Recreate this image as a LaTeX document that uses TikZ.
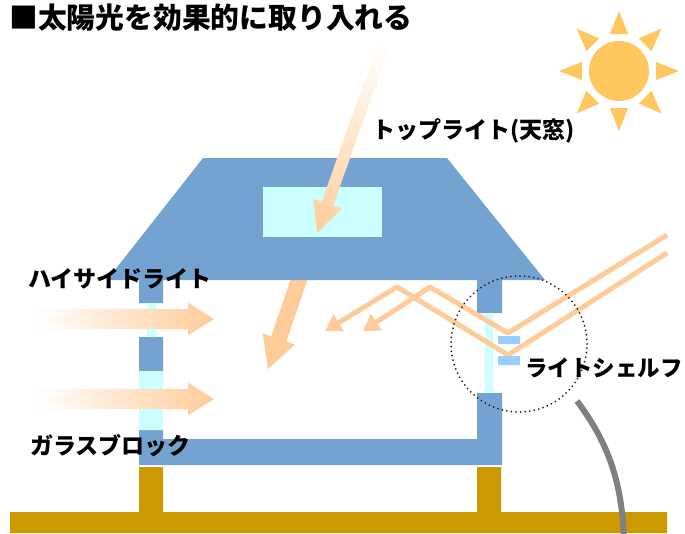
\documentclass[tikz,border=0pt]{standalone}
\usepackage{fontspec}
\setmainfont{Noto Sans CJK JP}
\usetikzlibrary{arrows.meta}
\definecolor{RoofClr}{RGB}{116,163,209}
\definecolor{GlassClr}{RGB}{204,255,255}
\definecolor{ShelfClr}{RGB}{153,204,255}
\definecolor{LightClr}{RGB}{255,204,153}
\definecolor{SunClr}{RGB}{255,199,94}
\definecolor{GroundClr}{RGB}{204,153,0}
\definecolor{WireClr}{RGB}{128,128,128}

\begin{document}
\begin{tikzpicture}[x=1pt,y=-1pt,
  fade/.style={left color=white,right color=LightClr},
  ray/.style={draw=LightClr,line width=5pt,line join=round,-{Triangle[width=19pt,length=16pt]}},
  tag/.style={anchor=west,inner sep=0pt,font=\fontsize{23}{27}\selectfont\bfseries}]
\useasboundingbox (0,0) rectangle (685,533);

% Beam below the skylight.
\fill[LightClr] (292.5,274.3) -- (271.2,336.2) -- (262.7,333.2) -- (268,369)
  -- (294.7,344.6) -- (286.2,341.6) -- (307.5,279.7) -- cycle;

% Roof with skylight.
\fill[RoofClr] (107,280) -- (203,158) -- (447,158) -- (545,280) -- cycle;
\fill[GlassClr] (263,187) rectangle (382,237);

% Walls and floor.
\fill[RoofClr] (139,280) rectangle (163,303) (139,337) rectangle (163,371)
  (139,430) rectangle (163,465) (139,439) rectangle (502,465)
  (477,280) rectangle (502,313) (477,393) rectangle (502,465);
\fill[GlassClr] (147,303) rectangle (156,337) (139,371) rectangle (163,430)
  (485,313) rectangle (493,393);

% Posts and ground.
\fill[GroundClr] (139,467) rectangle (163,512) (477,467) rectangle (501,512)
  (10,512) rectangle (667,533);

% Light through the high side window and glass block.
\foreach \y in {319,399}
  \shade[fade] (35,\y-10) -- (188,\y-10) -- (188,\y-16.5) -- (214,\y)
    -- (188,\y+16.5) -- (188,\y+10) -- (35,\y+10) -- cycle;

% Light through the skylight.
\shade[top color=white,bottom color=LightClr] (377.3,45) -- (321.7,201.7) -- (313.2,198.7)
  -- (317,233) -- (341.6,208.7) -- (333.1,205.7) -- (388.7,49) -- cycle;

% Light bounced off the shelf.
\coordinate (inA) at (667,235);
\coordinate (inB) at (667,253);
\coordinate (vA) at (508,333);
\coordinate (vB) at (508,355);
\coordinate (pkA) at (430,287);
\coordinate (pkB) at (397,287);
\coordinate (endA) at (363,331);
\coordinate (endB) at (325,331);
\draw[ray] (inA) -- (vA) -- (pkA) -- (endA);
\draw[ray] (inB) -- (vB) -- (pkB) -- (endB);

\fill[ShelfClr] (498,336) rectangle (520,344) (498,356) rectangle (520,365);

% Close-up ring and its lead.
\draw[black!85,line width=2pt,line cap=round,dash pattern=on 0pt off 4.6pt] (519,344) circle[radius=68pt];
\draw[WireClr,line width=6pt] (577,401) .. controls (606,440) and (622,478) .. (624,540);

% Sun.
\fill[SunClr] (619,71) circle[radius=30pt];
\foreach \a in {0,45,...,315}
  \fill[SunClr,shift={(619,71)},rotate=\a] (37,-9) -- (60,0) -- (37,9) -- cycle;

\node[anchor=west,inner sep=0pt,font=\fontsize{28.8}{33}\selectfont\bfseries] (title) at (9,18) {■太陽光を効果的に取り入れる};
\node[tag] (toplight) at (372,131) {トップライト(天窓)};
\node[tag] (highside) at (28,279) {ハイサイドライト};
\node[tag] (block) at (30,446) {ガラスブロック};
\node[tag,font=\fontsize{22.5}{27}\selectfont\bfseries] (shelf) at (525,368) {ライトシェルフ};

\end{tikzpicture}
\end{document}
